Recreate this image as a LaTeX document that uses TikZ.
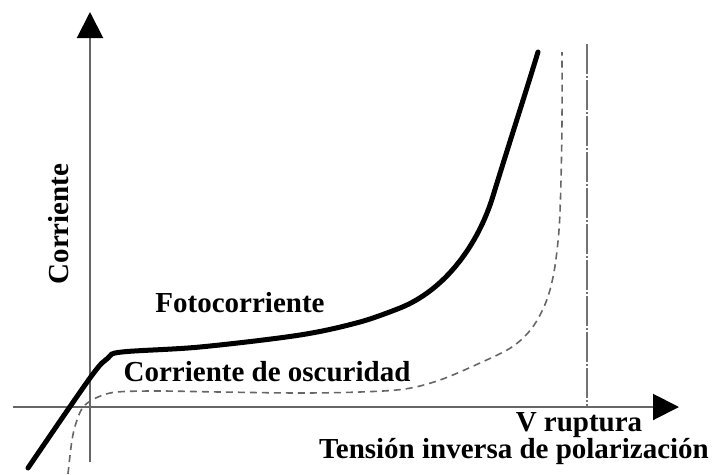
\documentclass[tikz,border=0pt]{standalone}
\usepackage{fontspec}
\setmainfont{Liberation Serif}
\usetikzlibrary{arrows.meta}

\begin{document}
\begin{tikzpicture}[x=1pt, y=-1pt,
        eje/.style={draw=black!60, line width=2pt, -{Triangle[length=26pt, width=26pt, color=black]}},
        foto/.style={line width=5pt, line cap=round},
        oscura/.style={draw=black!60, line width=1.6pt, dash pattern=on 7pt off 5pt},
        ruptura/.style={draw=black!55, line width=2.2pt, dash pattern=on 30pt off 2pt on 2pt off 2pt},
        texto/.style={font=\bfseries\fontsize{29}{32}\selectfont, inner sep=0pt}]
        \useasboundingbox (0,0) rectangle (723,474);

        % ejes
        \coordinate (Xini) at (13, 407);
        \coordinate (Xfin) at (679, 407);
        \coordinate (Yini) at (90, 462);
        \coordinate (Yfin) at (90, 12);
        \coordinate (Vtop) at (587, 44);
        \coordinate (Vbot) at (587, 407);
        \draw[eje] (Xini) to (Xfin);
        \draw[eje] (Yini) to (Yfin);
        \draw[ruptura] (Vtop) to (Vbot);

        % curvas
        \draw[foto] plot[smooth, tension=0.55] coordinates {(28,468) (90,378) (108,358) (122,352) (200,347)
            (300,335) (360,322) (400,308)}
            .. controls (445,290) and (478,245) .. (493,196)
            .. controls (508,147) and (524,98) .. (538,52);
        \draw[oscura] plot[smooth, tension=0.55] coordinates {(68,474) (72,440) (77,420) (84,406) (98,397)
            (117,392) (160,391) (220,392) (300,393) (360,392) (405,389) (440,380) (480,363)
            (512,347) (532,328) (546,302) (554,272) (559,230) (561,180) (562,120) (562,52)};

        % textos
        \node[texto, rotate=90] (Icorr) at (59, 224) {Corriente};
        \node[texto] (Ifoto) at (240, 303) {Fotocorriente};
        \node[texto] (Iosc) at (267, 372) {Corriente de oscuridad};
        \node[texto] (Vr) at (579, 425) {V ruptura};
        \node[texto] (Vinv) at (514, 452) {Tensión inversa de polarización};
    \end{tikzpicture}
\end{document}
